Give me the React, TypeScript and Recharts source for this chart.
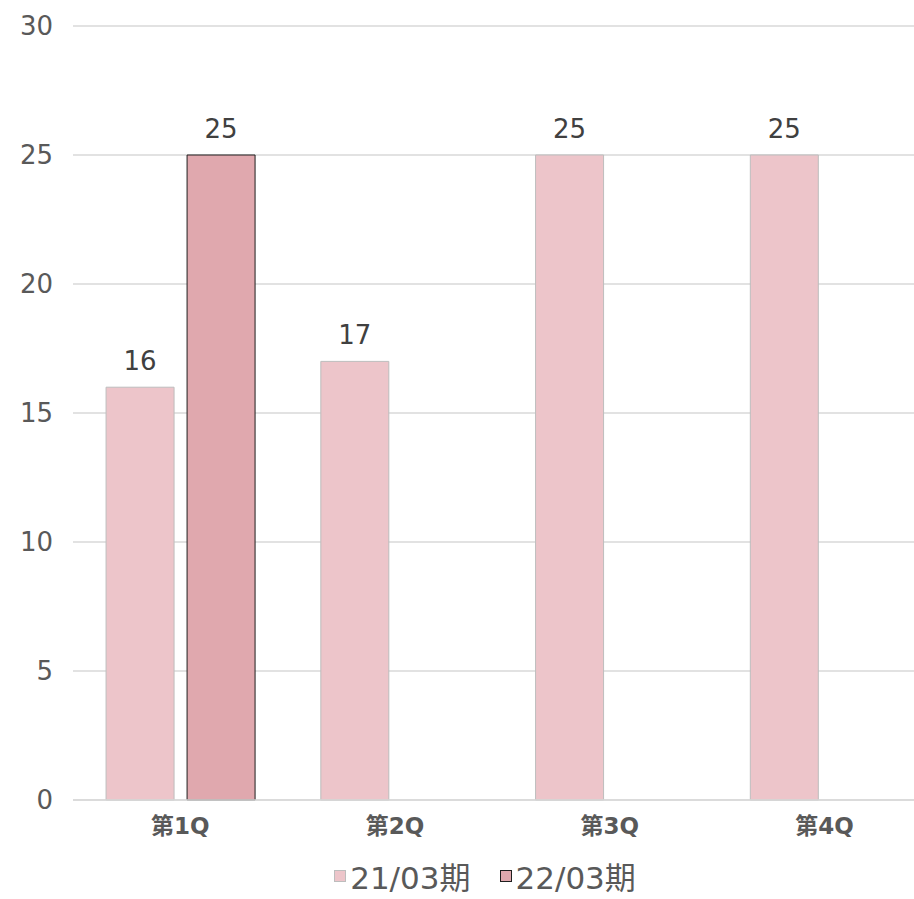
import React from 'react';
import {
  BarChart,
  Bar,
  XAxis,
  YAxis,
  CartesianGrid,
  Legend,
  LabelList,
} from 'recharts';

const quarters = ['第1Q', '第2Q', '第3Q', '第4Q'];
const fy2103 = [16, 17, 25, 25];
const fy2203: (number | null)[] = [25, null, null, null];
const yTicks = [0, 5, 10, 15, 20, 25, 30];

const seriesNames = ['21/03期', '22/03期'];
const fills = ['#EDC5CA', '#E0A8AE'];
const strokes = ['#BDBDBD', '#1F1F1F'];

const data = quarters.map((q, i) => ({
  name: q,
  a: fy2103[i],
  b: fy2203[i],
}));

const FONT = '"DejaVu Sans", "Noto Sans CJK JP", sans-serif';

function LegendContent() {
  return (
    <div
      style={{
        display: 'flex',
        justifyContent: 'center',
        alignItems: 'flex-end',
        height: 69,
        marginLeft: 38,
        fontFamily: FONT,
        fontSize: 31,
        color: '#595959',
      }}
    >
      {seriesNames.map((n, i) => (
        <div key={n} style={{ display: 'flex', alignItems: 'center', marginRight: i === 0 ? 29 : 0 }}>
          <span
            style={{
              display: 'inline-block',
              width: 10,
              height: 10,
              background: fills[i],
              border: `1px solid ${strokes[i]}`,
              marginRight: 4,
            }}
          />
          <span style={{ whiteSpace: 'nowrap' }}>{n}</span>
        </div>
      ))}
    </div>
  );
}

export default function App() {
  return (
    <div
      style={{
        position: 'absolute',
        left: 0,
        top: 0,
        width: 914,
        height: 899,
        overflow: 'hidden',
        background: '#fff',
      }}
    >
      <BarChart
        width={932}
        height={899}
        data={data}
        margin={{ top: 26, right: 0, bottom: 0, left: 0 }}
        barCategoryGap="15.4%"
        barGap={13}
      >
        <CartesianGrid vertical={false} stroke="#D9D9D9" strokeWidth={1.5} />
        <XAxis
          dataKey="name"
          axisLine={{ stroke: '#D9D9D9', strokeWidth: 1.5 }}
          tickLine={false}
          tickMargin={12}
          height={29}
          tick={{ fill: '#595959', fontSize: 23, fontWeight: 700, fontFamily: FONT }}
        />
        <YAxis
          domain={[0, 30]}
          ticks={yTicks}
          axisLine={false}
          tickLine={false}
          width={73}
          tickMargin={14}
          tick={{ fill: '#595959', fontSize: 26, fontFamily: FONT }}
        />
        <Legend verticalAlign="bottom" height={70} content={<LegendContent />} />
        <Bar dataKey="a" name={seriesNames[0]} fill={fills[0]} stroke={strokes[0]} strokeWidth={1} isAnimationActive={false}>
          <LabelList dataKey="a" position="top" offset={17} fill="#404040" fontSize={26} fontFamily={FONT} />
        </Bar>
        <Bar dataKey="b" name={seriesNames[1]} fill={fills[1]} stroke={strokes[1]} strokeWidth={1} isAnimationActive={false}>
          <LabelList dataKey="b" position="top" offset={17} fill="#404040" fontSize={26} fontFamily={FONT} />
        </Bar>
      </BarChart>
    </div>
  );
}
